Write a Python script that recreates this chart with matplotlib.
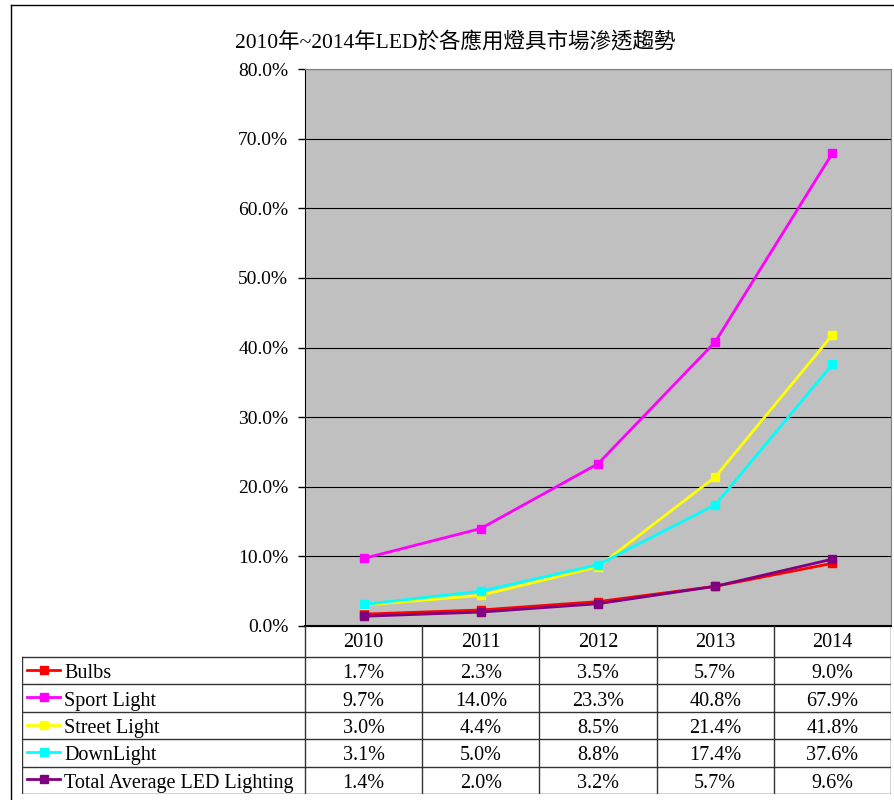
import matplotlib
matplotlib.use("Agg")
import matplotlib.pyplot as plt
from matplotlib.lines import Line2D

plt.rcParams['font.family'] = ['Liberation Serif', 'Noto Sans CJK TC']

# Data (percent)
years = ["2010", "2011", "2012", "2013", "2014"]
bulbs = [1.7, 2.3, 3.5, 5.7, 9.0]
sport_light = [9.7, 14.0, 23.3, 40.8, 67.9]
street_light = [3.0, 4.4, 8.5, 21.4, 41.8]
down_light = [3.1, 5.0, 8.8, 17.4, 37.6]
total_avg = [1.4, 2.0, 3.2, 5.7, 9.6]
series_names = ["Bulbs", "Sport Light", "Street Light", "DownLight", "Total Average LED Lighting"]
series_values = [bulbs, sport_light, street_light, down_light, total_avg]
series_colors = ["#FF0000", "#FF00FF", "#FFFF00", "#00FFFF", "#800080"]
y_ticks = [0, 10, 20, 30, 40, 50, 60, 70, 80]
title = "2010年~2014年LED於各應用燈具市場滲透趨勢"

W, H = 894, 800
fig = plt.figure(figsize=(W / 100, H / 100), dpi=100)

# pixel layout
plot_l, plot_r, plot_t, plot_b = 305, 891, 69, 626
tab_l, tab_b = 22, 794
head_h = 31
row_h = (tab_b - plot_b - head_h) / len(series_names)
fs = 14.5

ax = fig.add_axes([plot_l / W, 1 - plot_b / H, (plot_r - plot_l) / W, (plot_b - plot_t) / H])
ax.set_facecolor("#C0C0C0")
x = list(range(len(years)))
for name, vals, col in zip(series_names, series_values, series_colors):
    ax.plot(x, vals, color=col, lw=2, marker="s", ms=6, mec=col, mfc=col)
ax.set_xlim(-0.5, len(years) - 0.5)
ax.set_ylim(0, 80)
ax.set_yticks(y_ticks)
ax.set_yticklabels([f"{v:.1f}%" for v in y_ticks], fontsize=14)
ax.set_xticks([])
ax.grid(axis="y", color="black", lw=0.8)
ax.set_axisbelow(True)
ax.tick_params(axis="y", direction="out", length=5, width=1, pad=7)
for s in ["top", "right"]:
    ax.spines[s].set_color("#808080")
ax.spines["left"].set_color("black")
ax.spines["bottom"].set_color("black")
ax.spines["bottom"].set_linewidth(1.5)

# data table below
col_w = (plot_r - plot_l) / len(years)
tx0 = -0.5 - (plot_l - tab_l) / col_w
tab = fig.add_axes([tab_l / W, 1 - tab_b / H, (plot_r - tab_l) / W, (tab_b - plot_b) / H])
tab.set_xlim(tx0, len(years) - 0.5)
tab.set_ylim(tab_b - plot_b, 0)
tab.axis("off")

def px(p):
    return -0.5 + (p - plot_l) / col_w

lc = "#333333"
# horizontal lines
tab.plot([-0.5, len(years) - 0.5], [0, 0], color="black", lw=1.5)
for i in range(len(series_names) + 1):
    yy = head_h + i * row_h
    tab.plot([tx0, len(years) - 0.5], [yy, yy], color=lc, lw=1)
# vertical lines
for j in range(len(years) + 1):
    tab.plot([j - 0.5, j - 0.5], [0, tab_b - plot_b], color=lc, lw=1)
tab.plot([tx0, tx0], [head_h, tab_b - plot_b], color=lc, lw=1)

for j, yr in enumerate(years):
    tab.text(j, head_h / 2 + 1, yr, ha="center", va="center", fontsize=fs)
for i, (name, vals, col) in enumerate(zip(series_names, series_values, series_colors)):
    yc = head_h + (i + 0.5) * row_h + 3
    tab.plot([px(27), px(60)], [yc - 4, yc - 4], color=col, lw=2)
    tab.plot([px(43.5)], [yc - 4], marker="s", ms=6, color=col)
    tab.text(px(64), yc, name, ha="left", va="center", fontsize=fs)
    for j, v in enumerate(vals):
        tab.text(j, yc, f"{v:.1f}%", ha="center", va="center", fontsize=fs)

fig.text(455 / W, 1 - 42 / H, title, ha="center", va="center", fontsize=15.5)

# outer chart border (top and left)
fig.add_artist(Line2D([11 / W, 11 / W], [0, 1 - 5 / H], transform=fig.transFigure, color="black", lw=1))
fig.add_artist(Line2D([11 / W, 1], [1 - 5 / H, 1 - 5 / H], transform=fig.transFigure, color="black", lw=1))

fig.savefig("out.png", dpi=100)
